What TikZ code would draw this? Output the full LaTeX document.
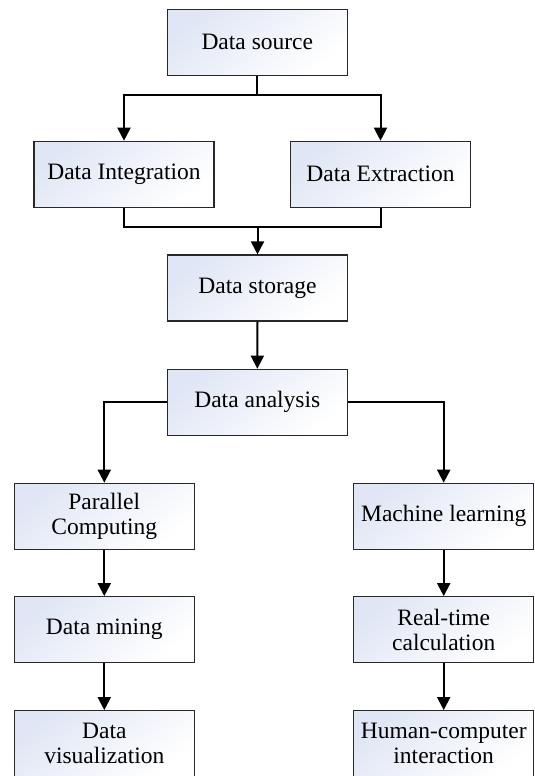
\documentclass[tikz,border=0pt]{standalone}
\usepackage{fontspec}
\setmainfont{Liberation Serif}
\usetikzlibrary{arrows.meta}
\definecolor{boxblue}{RGB}{224,230,245}
\definecolor{boxline}{RGB}{40,40,40}
\begin{document}
\begin{tikzpicture}[x=1pt,y=-1pt,
  flowbox/.style={draw=boxline, line width=1.2pt, rectangle,
    minimum width=180pt, minimum height=66pt, inner sep=0pt, align=center,
    top color=boxblue, bottom color=white, shading angle=40,
    font=\fontsize{23.5}{25}\selectfont},
  conn/.style={line width=2pt, black},
  arr/.style={conn, -{Triangle[length=13pt,width=13pt]}}]
\useasboundingbox (0,0) rectangle (535,776);
\clip (0,0) rectangle (535,776);
\node[flowbox] (src) at (257.3,42.3) {Data source};
\node[flowbox] (int) at (124,174.3) {Data Integration};
\node[flowbox] (ext) at (380.5,174.3) {Data Extraction};
\node[flowbox] (sto) at (257.5,288) {Data storage};
\node[flowbox] (ana) at (257.3,402.3) {Data analysis};
\node[flowbox] (par) at (104.3,516.3) {Parallel\\Computing};
\node[flowbox] (mac) at (443.7,516.3) {Machine learning};
\node[flowbox] (min) at (104.3,629.7) {Data mining};
\node[flowbox] (rtc) at (443.7,629.7) {Real-time\\calculation};
\node[flowbox] (vis) at (104.3,743.7) {Data\\visualization};
\node[flowbox] (hci) at (443.7,743.7) {Human-computer\\interaction};
\coordinate (split) at (257.3,95.3);
\coordinate (merge) at (257.5,226.7);
\draw[conn] (src.south) -- (split);
\draw[arr] (split) -| (int.north);
\draw[arr] (split) -| (ext.north);
\draw[conn] (int.south) |- (merge);
\draw[conn] (ext.south) |- (merge);
\draw[arr] (merge) -- (sto.north);
\draw[arr] (sto.south) -- (ana.north);
\draw[arr] (ana.west) -| (par.north);
\draw[arr] (ana.east) -| (mac.north);
\draw[arr] (par.south) -- (min.north);
\draw[arr] (min.south) -- (vis.north);
\draw[arr] (mac.south) -- (rtc.north);
\draw[arr] (rtc.south) -- (hci.north);
\end{tikzpicture}
\end{document}
